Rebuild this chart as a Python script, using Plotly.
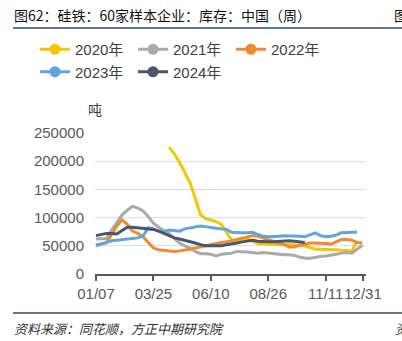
import plotly.graph_objects as go

# ---- data (weekly, tonnes) ----
tick_labels = ["01/07", "03/25", "06/10", "08/26", "11/11", "12/31"]
tick_days = [0, 77, 154, 231, 308, 358]

y2020 = [None, None, None, None, None, None, None, None, None, None,
         None, None, None, None, 225000, 213000, 198000, 180000, 162000, 135000,
         105000, 98000, 96000, 93000, 88000, 75000, 60000, 58000, 61000, 62000,
         58000, 54000, 53000, 53000, 53000, 53000, 53000, 53000, 52000, 51000,
         50000, 47000, 44000, 44000, 44000, 43000, 43000, 42000, 41000, 41000,
         58000]
y2021 = [62000, 62000, 63000, 78000, 92000, 105000, 113000, 120000, 117000, 112000,
         102000, 90000, 83000, 78000, 72000, 63000, 55000, 50000, 46000, 40000,
         36000, 36000, 35000, 32000, 35000, 36000, 37000, 40000, 40000, 39000,
         38000, 37000, 38000, 37000, 35000, 35000, 34000, 34000, 33000, 30000,
         28000, 28000, 30000, 31000, 32000, 33000, 35000, 37000, 38000, 37000,
         44000, 51000]
y2022 = [52000, 53000, 55000, 70000, 85000, 96000, 88000, 76000, 72000, 66000,
         56000, 46000, 43000, 42000, 41000, 40000, 41000, 42000, 44000, 46000,
         48000, 50000, 52000, 55000, 56000, 57000, 59000, 61000, 63000, 66000,
         68000, 67000, 64000, 62000, 59000, 56000, 52000, 48000, 48000, 51000,
         53000, 55000, 55000, 55000, 54000, 53000, 57000, 61000, 61000, 60000,
         56000, 55000]
y2023 = [50000, 53000, 56000, 59000, 60000, 61000, 61000, 62000, 64000, 67000,
         82000, 80000, 76000, 75000, 78000, 77000, 76000, 80000, 82000, 84000,
         85000, 84000, 82000, 81000, 80000, 79000, 74000, 73000, 73000, 73000,
         74000, 70000, 67000, 66000, 66000, 67000, 68000, 68000, 67000, 67000,
         66000, 69000, 73000, 68000, 66000, 67000, 69000, 73000, 74000, 74000,
         74000]
y2024 = [68000, 70000, 72000, 72000, 71000, 77000, 83000, 83000, 82000, 81000,
         80000, 79000, 76000, 72000, 68000, 64000, 62000, 60000, 58000, 55000,
         52000, 50000, 50000, 50000, 50000, 52000, 53000, 55000, 57000, 59000,
         60000, 58000, 57000, 57000, 57000, 58000, 59000, 59000, 58000, 57000,
         56000]

series = [
    ("2020年", y2020, "#f7c600"),
    ("2021年", y2021, "#aaaaaa"),
    ("2022年", y2022, "#f08a30"),
    ("2023年", y2023, "#62a3e0"),
    ("2024年", y2024, "#48566e"),
]

W, H = 402, 341
L, R, T, B = 95, 36, 133, 67
pw, ph = W - L - R, H - T - B


def px(xp):
    return (xp - L) / pw


def py(yp):
    return (H - B - yp) / ph


fig = go.Figure()
for name, vals, col in series:
    days = [7 * i for i in range(len(vals))]
    fig.add_trace(go.Scatter(
        x=days, y=vals, name=name, mode="lines", showlegend=False,
        line=dict(color=col, width=3),
        hoverinfo="skip",
    ))
for name, vals, col in series:
    fig.add_trace(go.Scatter(
        x=[None], y=[None], name=name, mode="lines+markers",
        line=dict(color=col, width=3),
        marker=dict(size=11, color=col),
    ))

font_family = "Liberation Sans, Noto Sans CJK SC, Arial, sans-serif"
cjk_family = "Noto Sans CJK SC, sans-serif"
fig.update_layout(
    width=W, height=H,
    margin=dict(l=L, r=R, t=T, b=B),
    paper_bgcolor="white", plot_bgcolor="white",
    font=dict(family=font_family, size=15, color="#595959"),
    showlegend=True,
    legend=dict(
        orientation="h", xref="paper", yref="paper",
        x=px(35), y=py(33), xanchor="left", yanchor="top",
        entrywidth=53, entrywidthmode="pixels",
        font=dict(size=15, color="#404040", family=font_family),
        bgcolor="rgba(0,0,0,0)", tracegroupgap=0,
    ),
    xaxis=dict(
        range=[-1.3, 362], tickmode="array", tickvals=tick_days, ticktext=tick_labels,
        tickangle=0,
        showgrid=False, zeroline=False, showline=True, linecolor="#595959", linewidth=1.5,
        ticks="outside", ticklen=5, tickcolor="#595959", tickwidth=1.5,
        tickfont=dict(size=15, color="#595959"),
    ),
    yaxis=dict(
        range=[0, 250000], tickmode="array",
        tickvals=[0, 50000, 100000, 150000, 200000, 250000],
        ticktext=["0", "50000", "100000", "150000", "200000", "250000"],
        showgrid=True, gridcolor="#d9dfea", gridwidth=1, zeroline=False,
        showline=False, ticks="", ticklabelstandoff=10,
        tickfont=dict(size=15, color="#595959"),
    ),
)

fig.add_annotation(text="图62：硅铁：60家样本企业：库存：中国（周）", xref="paper", yref="paper",
                   x=px(12), y=py(15), xanchor="left", yanchor="middle", showarrow=False,
                   font=dict(size=14, color="#111111", family=cjk_family))
fig.add_annotation(text="图", xref="paper", yref="paper",
                   x=px(392), y=py(15), xanchor="left", yanchor="middle", showarrow=False,
                   font=dict(size=14, color="#111111", family=cjk_family))
fig.add_annotation(text="吨", xref="paper", yref="paper",
                   x=px(95), y=py(109), xanchor="center", yanchor="middle", showarrow=False,
                   font=dict(size=14, color="#404040", family=cjk_family))
fig.add_annotation(text="<i>资料来源：同花顺，方正中期研究院</i>", xref="paper", yref="paper",
                   x=px(12), y=py(328), xanchor="left", yanchor="middle", showarrow=False,
                   font=dict(size=13, color="#333333", family=cjk_family))
fig.add_annotation(text="<i>资</i>", xref="paper", yref="paper",
                   x=px(393), y=py(328), xanchor="left", yanchor="middle", showarrow=False,
                   font=dict(size=13, color="#333333", family=cjk_family))
for yl in (28, 313):
    fig.add_shape(type="line", xref="paper", yref="paper",
                  x0=px(13), x1=px(402), y0=py(yl), y1=py(yl),
                  line=dict(color="#1f4e79", width=1.5))

fig.write_html("out.html")
